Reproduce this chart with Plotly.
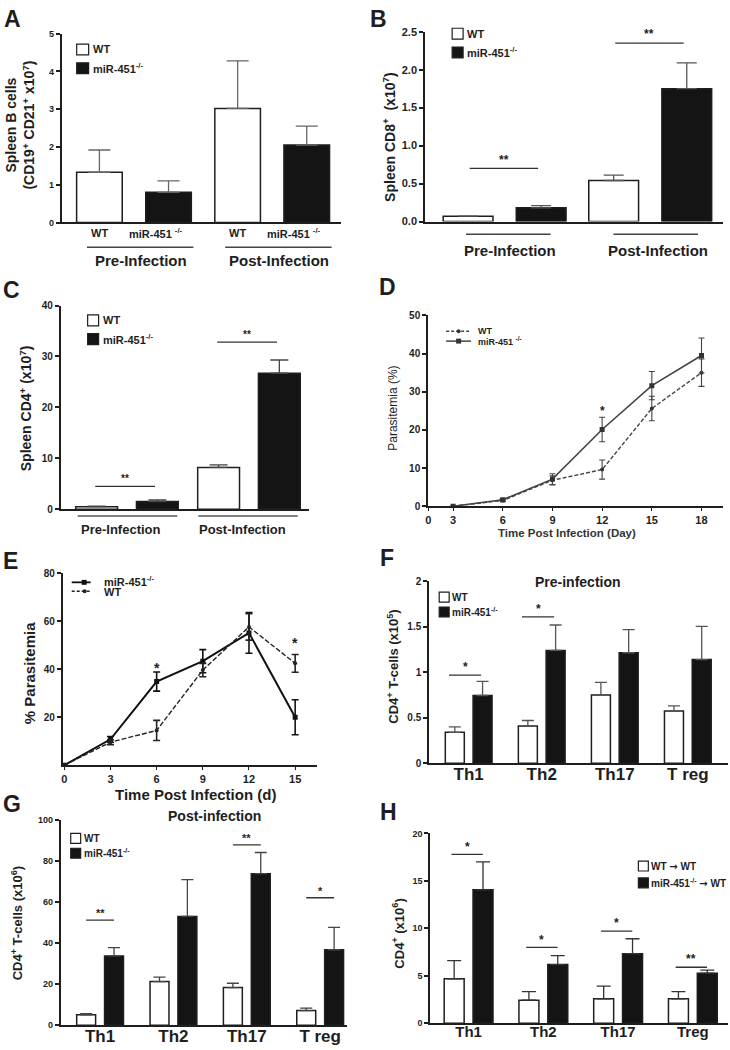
import plotly.graph_objects as go

FONT = "Liberation Sans, Arial, Helvetica, sans-serif"
W, H = 730, 1050
INK = "#1e1e1e"
BLACKBAR = "#141414"

# ---------------- data ----------------
groups = ["Pre-Infection", "Post-Infection"]
# Panel A: spleen B cells (x10^7)
a_wt = [1.33, 3.02]
a_wt_sem = [0.59, 1.26]
a_mir = [0.80, 2.05]
a_mir_sem = [0.30, 0.50]
# Panel B: spleen CD8+ (x10^7)
b_wt = [0.07, 0.54]
b_wt_sem = [0.0, 0.07]
b_mir = [0.18, 1.75]
b_mir_sem = [0.03, 0.34]
b_sig_y = [0.70, 2.35]
b_sig_txt = ["**", "**"]
# Panel C: spleen CD4+ (x10^7)
c_wt = [0.5, 8.2]
c_wt_sem = [0.1, 0.5]
c_mir = [1.5, 26.7]
c_mir_sem = [0.3, 2.6]
c_sig_y = [4.5, 32.8]
c_sig_txt = ["**", "**"]
# Panel D: parasitemia (%)
d_days = [3, 6, 9, 12, 15, 18]
d_wt = [0.0, 1.5, 6.8, 9.6, 25.6, 35.0]
d_wt_sem = [0.0, 0.3, 1.2, 2.5, 3.2, 3.6]
d_mir = [0.0, 1.7, 7.1, 20.1, 31.6, 39.5]
d_mir_sem = [0.0, 0.3, 1.4, 3.2, 3.7, 4.6]
d_star_day = [12]
d_star_y = [25.7]
d_xticks = [0, 3, 6, 9, 12, 15, 18]
# Panel E: % parasitemia
e_days = [0, 3, 6, 9, 12, 15]
e_mir = [0.0, 10.8, 34.9, 43.4, 55.2, 20.0]
e_mir_sem = [0.0, 1.2, 4.0, 4.8, 8.5, 7.3]
e_wt = [0.0, 9.6, 14.5, 39.7, 57.7, 42.5]
e_wt_sem = [0.0, 1.0, 4.2, 2.8, 5.5, 3.7]
e_star_day = [6, 15]
e_star_y = [41.8, 52.1]
# Panel F: pre-infection CD4+ subsets (x10^5)
f_cats = ["Th1", "Th2", "Th17", "T reg"]
f_wt = [0.34, 0.41, 0.75, 0.575]
f_wt_sem = [0.06, 0.06, 0.14, 0.055]
f_mir = [0.745, 1.24, 1.215, 1.14]
f_mir_sem = [0.155, 0.28, 0.255, 0.365]
f_sig_idx = [0, 1]
f_sig_y = [0.97, 1.61]
f_sig_txt = ["*", "*"]
# Panel G: post-infection CD4+ subsets (x10^6)
g_cats = ["Th1", "Th2", "Th17", "T reg"]
g_wt = [5.1, 21.2, 18.3, 7.1]
g_wt_sem = [0.5, 2.2, 2.1, 1.2]
g_mir = [33.7, 52.9, 73.7, 36.7]
g_mir_sem = [4.0, 17.9, 10.3, 10.9]
g_sig_idx = [0, 2, 3]
g_sig_y = [51.1, 87.7, 62.0]
g_sig_txt = ["**", "**", "*"]
# Panel H: chimera CD4+ subsets (x10^6)
h_cats = ["Th1", "Th2", "Th17", "Treg"]
h_wt = [4.69, 2.43, 2.57, 2.57]
h_wt_sem = [1.91, 0.90, 1.33, 0.76]
h_mir = [14.06, 6.18, 7.33, 5.28]
h_mir_sem = [2.94, 0.94, 1.57, 0.32]
h_sig_idx = [0, 1, 2, 3]
h_sig_y = [17.8, 8.0, 9.7, 5.9]
h_sig_txt = ["*", "*", "*", "**"]

MIR = "miR-451<sup>-/-</sup>"
ARROW = "<span style='font-family:DejaVu Sans'>→</span>"

# ---------------- helpers ----------------
def px(x):
    return x / W


def py(y):
    return 1 - y / H


fig = go.Figure()
annotations = []
shapes = []
layout = dict(
    width=W, height=H, margin=dict(l=0, r=0, t=0, b=0),
    paper_bgcolor="white", plot_bgcolor="white",
    showlegend=False, barmode="overlay",
    font=dict(family=FONT, color=INK),
)


def names(n):
    s = "" if n == 1 else str(n)
    return "xaxis" + s, "yaxis" + s, "x" + s, "y" + s


def text(t, x, y, size, bold=True, xanchor="center", yanchor="middle",
         angle=0, xref="paper", yref="paper", color=INK, xshift=0, yshift=0):
    if xref == "paper":
        x = px(x)
    if yref == "paper":
        y = py(y)
    annotations.append(dict(
        text=t, x=x, y=y, xref=xref, yref=yref, showarrow=False,
        xanchor=xanchor, yanchor=yanchor, textangle=angle,
        xshift=xshift, yshift=yshift,
        font=dict(family=FONT, size=size, color=color,
                  weight="bold" if bold else "normal")))


def setup_axes(n, box, xr, yr, ytickvals, ytickfont, ytickformat=None,
               xcat=None, xtickfont=None, xlinear=None, xstand=0):
    xa, ya, xs, ys = names(n)
    l, t, r, b = box
    yaxis = dict(domain=[py(b), py(t)], anchor=xs, range=yr,
                 showline=True, linecolor=INK, linewidth=2,
                 ticks="outside", ticklen=4, tickwidth=1.5, tickcolor=INK,
                 tickvals=ytickvals, showgrid=False, zeroline=False,
                 tickfont=dict(family=FONT, size=ytickfont, color=INK, weight="bold"))
    if ytickformat:
        yaxis["tickformat"] = ytickformat
    xaxis = dict(domain=[px(l), px(r)], anchor=ys, range=xr,
                 showline=True, linecolor=INK, linewidth=2,
                 showgrid=False, zeroline=False)
    if xlinear is not None:
        xaxis.update(type="linear", tickvals=xlinear[0], ticktext=xlinear[1],
                     ticks="outside", ticklen=3, tickwidth=1.2, tickcolor=INK,
                     tickfont=dict(family=FONT, size=xtickfont, color=INK, weight="bold"))
    else:
        xaxis.update(type="category", ticks="")
        if xcat is None:
            xaxis["showticklabels"] = False
        else:
            xaxis.update(categoryorder="array", categoryarray=xcat,
                         ticklabelstandoff=xstand,
                         tickfont=dict(family=FONT, size=xtickfont, color=INK, weight="bold"))
    layout[xa] = xaxis
    layout[ya] = yaxis
    return xs, ys


def bars(xs, ys, cats, wt, wt_sem, mir, mir_sem, d, w, cap, ecolor):
    zeros = [0] * len(cats)
    for vals, sem, fill, off in ((wt, wt_sem, "white", -d), (mir, mir_sem, BLACKBAR, d)):
        fig.add_trace(go.Bar(
            x=cats, y=vals, xaxis=xs, yaxis=ys, width=w, offset=off - w / 2,
            marker=dict(color=fill, line=dict(color=INK, width=1.5)),
            error_y=dict(type="data", symmetric=False, array=sem, arrayminus=zeros,
                         color=ecolor, thickness=1.3, width=cap),
            hoverinfo="skip"))


def sig(xs, ys, idx, yv, txt, lo, hi, size, bold=True, gap=0.0, color="#333"):
    for i, yy, tt in zip(idx, yv, txt):
        shapes.append(dict(type="line", xref=xs, yref=ys, x0=i + lo, x1=i + hi,
                           y0=yy, y1=yy, line=dict(color=color, width=1.3)))
        text(tt, i + (lo + hi) / 2, yy, size, bold=bold, xref=xs, yref=ys,
             yanchor="bottom", yshift=gap - size * 0.35)


def box_legend(x, y1, y2, t1, t2, size, bw=11, bh=11, tx=2):
    shapes.append(dict(type="rect", xref="paper", yref="paper",
                       x0=px(x), x1=px(x + bw), y0=py(y1 + bh / 2), y1=py(y1 - bh / 2),
                       line=dict(color=INK, width=1.2), fillcolor="white"))
    shapes.append(dict(type="rect", xref="paper", yref="paper",
                       x0=px(x), x1=px(x + bw), y0=py(y2 + bh / 2), y1=py(y2 - bh / 2),
                       line=dict(color=INK, width=1.2), fillcolor=BLACKBAR))
    text(t1, x + bw + tx, y1, size, xanchor="left")
    text(t2, x + bw + tx, y2, size, xanchor="left")


def underline(xs, i, lo, hi, ypix, color="#444"):
    shapes.append(dict(type="line", xref=xs, yref="paper", x0=i + lo, x1=i + hi,
                       y0=py(ypix), y1=py(ypix), line=dict(color=color, width=1.5)))


# ---------------- panel letters ----------------
for letter, lx, ly in (("A", 10, 13), ("B", 377, 13), ("C", 9, 287), ("D", 386, 284),
                       ("E", 8, 561), ("F", 386, 558), ("G", 9, 807), ("H", 387, 815)):
    text(letter, lx, ly, 23)

# ---------------- Panel A ----------------
xs, ys = setup_axes(1, (59, 28, 339, 219), [-0.5225, 1.495], [0, 5],
                    [0, 1, 2, 3, 4, 5], 9)
bars(xs, ys, groups, a_wt, a_wt_sem, a_mir, a_mir_sem, 0.25, 0.33, 11, "#666")
for i in range(2):
    text("WT", i - 0.25, 230, 11, xref=xs)
    text("miR-451 <sup>-/-</sup>", i + 0.25, 230, 11, xref=xs, xshift=-13)
    underline(xs, i, -0.34, 0.43, 244)
    text(groups[i], i + 0.05, 257, 15, xref=xs)
box_legend(74, 44, 63, "WT", MIR, 11, bw=12, bh=11)
text("Spleen B cells<br>(CD19<sup>+</sup> CD21<sup>+</sup> x10<sup>7</sup>)", 17, 120, 14, angle=-90)

# ---------------- Panel B ----------------
xs, ys = setup_axes(2, (424, 26, 723, 218), [-0.545, 1.5], [0, 2.5],
                    [0, 0.5, 1.0, 1.5, 2.0, 2.5], 11, ytickformat=".1f")
bars(xs, ys, groups, b_wt, b_wt_sem, b_mir, b_mir_sem, 0.251, 0.342, 10, "#555")
sig(xs, ys, [0, 1], b_sig_y, b_sig_txt, -0.24, 0.23, 12, gap=4)
underline(xs, 0, -0.265, 0.316, 231)
underline(xs, 1, -0.253, 0.328, 231)
text("Pre-Infection", 0.04, 247, 15, xref=xs)
text("Post-Infection", 1.05, 247, 15, xref=xs)
box_legend(451, 28, 47, "WT", MIR, 11)
text("Spleen CD8<sup>+</sup>  (x10<sup>7</sup>)", 388, 133, 14, angle=-90)

# ---------------- Panel C ----------------
xs, ys = setup_axes(3, (58, 303, 307, 509), [-0.543, 1.49], [0, 40],
                    [0, 10, 20, 30, 40], 10)
bars(xs, ys, groups, c_wt, c_wt_sem, c_mir, c_mir_sem, 0.249, 0.343, 9, "#444")
sig(xs, ys, [0, 1], c_sig_y, c_sig_txt, -0.26, 0.23, 10, gap=4)
underline(xs, 0, -0.404, 0.412, 516, color="#555")
underline(xs, 1, -0.416, 0.40, 516, color="#555")
text("Pre-Infection", -0.05, 530, 13, xref=xs)
text("Post-Infection", 0.95, 530, 13, xref=xs)
box_legend(85, 318, 337, "WT", MIR, 11)
text("Spleen CD4<sup>+</sup> (x10<sup>7</sup>)", 23, 407, 14, angle=-90)

# ---------------- Panel D ----------------
d_tickpos = [1.5] + d_xticks[1:]
xs, ys = setup_axes(4, (427, 313, 723, 506), [1.5, 19.3], [0, 50],
                    [0, 10, 20, 30, 40, 50], 10,
                    xlinear=(d_tickpos, [str(v) for v in d_xticks]), xtickfont=11)
fig.add_trace(go.Scatter(
    x=d_days, y=d_wt, xaxis=xs, yaxis=ys, mode="lines+markers",
    line=dict(color="#444", width=1.4, dash="4px,2px"),
    marker=dict(symbol="circle", size=4, color="#333"),
    error_y=dict(type="data", array=d_wt_sem, color="#444", thickness=1.1, width=3),
    hoverinfo="skip"))
fig.add_trace(go.Scatter(
    x=d_days, y=d_mir, xaxis=xs, yaxis=ys, mode="lines+markers",
    line=dict(color="#444", width=1.6),
    marker=dict(symbol="square", size=5, color="#333"),
    error_y=dict(type="data", array=d_mir_sem, color="#444", thickness=1.1, width=3),
    hoverinfo="skip"))
for dd, yy in zip(d_star_day, d_star_y):
    text("*", dd, yy, 12, xref=xs, yref=ys, yshift=-3)
shapes.append(dict(type="line", xref="paper", yref="paper", x0=px(445), x1=px(470),
                   y0=py(329), y1=py(329), line=dict(color="#444", width=1.3, dash="3px,2px")))
shapes.append(dict(type="circle", xref="paper", yref="paper", x0=px(455.5), x1=px(459.5),
                   y0=py(331), y1=py(327), fillcolor="#333", line=dict(width=0)))
shapes.append(dict(type="line", xref="paper", yref="paper", x0=px(445), x1=px(470),
                   y0=py(339), y1=py(339), line=dict(color="#444", width=1.5)))
shapes.append(dict(type="rect", xref="paper", yref="paper", x0=px(455), x1=px(460),
                   y0=py(341.5), y1=py(336.5), fillcolor="#333", line=dict(width=0)))
text("WT", 475, 329, 9, xanchor="left")
text("miR-451 <sup>-/-</sup>", 475, 339, 9, xanchor="left")
text("Parasitemia (%)", 392, 407, 12, bold=False, angle=-90)
text("Time Post Infection (Day)", 566, 533, 11.5, color="#333")

# ---------------- Panel E ----------------
xs, ys = setup_axes(5, (60, 574, 315, 768), [-0.1, 16.4], [0, 80],
                    [20, 40, 60, 80], 10,
                    xlinear=(e_days, [str(v) for v in e_days]), xtickfont=11)
fig.add_trace(go.Scatter(
    x=e_days, y=e_mir, xaxis=xs, yaxis=ys, mode="lines+markers",
    line=dict(color="#111", width=2),
    marker=dict(symbol="square", size=5, color="#111"),
    error_y=dict(type="data", array=e_mir_sem, color="#111", thickness=1.6, width=3.5),
    hoverinfo="skip"))
fig.add_trace(go.Scatter(
    x=e_days, y=e_wt, xaxis=xs, yaxis=ys, mode="lines+markers",
    line=dict(color="#222", width=1.4, dash="5px,2px"),
    marker=dict(symbol="circle", size=4, color="#222"),
    error_y=dict(type="data", array=e_wt_sem, color="#222", thickness=1.6, width=3.5),
    hoverinfo="skip"))
for dd, yy in zip(e_star_day, e_star_y):
    text("*", dd, yy, 14, xref=xs, yref=ys, yshift=-3)
shapes.append(dict(type="line", xref="paper", yref="paper", x0=px(69), x1=px(88),
                   y0=py(583), y1=py(583), line=dict(color="#111", width=1.8)))
shapes.append(dict(type="rect", xref="paper", yref="paper", x0=px(79), x1=px(84),
                   y0=py(585.5), y1=py(580.5), fillcolor="#111", line=dict(width=0)))
shapes.append(dict(type="line", xref="paper", yref="paper", x0=px(69), x1=px(88),
                   y0=py(592), y1=py(592), line=dict(color="#222", width=1.4, dash="3px,2px")))
shapes.append(dict(type="circle", xref="paper", yref="paper", x0=px(80), x1=px(84),
                   y0=py(594), y1=py(590), fillcolor="#222", line=dict(width=0)))
text(MIR, 99, 582, 11, xanchor="left")
text("WT", 99, 593, 11, xanchor="left")
text("% Parasitemia", 26, 675, 15, angle=-90)
text("Time Post Infection (d)", 193, 798, 15)

# ---------------- Panel F ----------------
xs, ys = setup_axes(6, (428, 582, 728, 766), [-0.54, 3.55], [0, 2],
                    [0, 0.5, 1, 1.5, 2], 10, xcat=f_cats, xtickfont=17, xstand=-6)
bars(xs, ys, f_cats, f_wt, f_wt_sem, f_mir, f_mir_sem, 0.19, 0.26, 6, "#555")
sig(xs, ys, f_sig_idx, f_sig_y, f_sig_txt, -0.27, 0.17, 12, gap=3)
box_legend(438, 598, 613, "WT", MIR, 10, bw=10, bh=10, tx=1)
text("Pre-infection", 577, 583, 14)
text("CD4<sup>+</sup> T-cells (x10<sup>5</sup>)", 392, 668, 13, angle=-90)

# ---------------- Panel G ----------------
xs, ys = setup_axes(7, (58, 823, 345, 1031), [-0.536, 3.36], [0, 100],
                    [0, 20, 40, 60, 80, 100], 9, xcat=g_cats, xtickfont=17, xstand=-6)
bars(xs, ys, g_cats, g_wt, g_wt_sem, g_mir, g_mir_sem, 0.19, 0.258, 6, "#444")
sig(xs, ys, g_sig_idx, g_sig_y, g_sig_txt, -0.19, 0.19, 11, gap=3)
box_legend(68, 842, 857, "WT", MIR, 10, bw=10, bh=10, tx=1)
text("Post-infection", 212, 819, 14)
text("CD4<sup>+</sup> T-cells (x10<sup>6</sup>)", 14, 928, 13, angle=-90)

# ---------------- Panel H ----------------
xs, ys = setup_axes(8, (429, 837, 728, 1029), [-0.513, 3.47], [0, 20],
                    [0, 5, 10, 15, 20], 9, xcat=h_cats, xtickfont=15, xstand=-6)
bars(xs, ys, h_cats, h_wt, h_wt_sem, h_mir, h_mir_sem, 0.193, 0.267, 7, "#333")
sig(xs, ys, h_sig_idx, h_sig_y, h_sig_txt, -0.23, 0.19, 12, gap=3)
box_legend(638, 870, 887, "WT " + ARROW + " WT", MIR + " " + ARROW + " WT", 10,
           bw=10, bh=10, tx=1)
text("CD4<sup>+</sup> (x10<sup>6</sup>)", 397, 938, 13, angle=-90)

layout["annotations"] = annotations
layout["shapes"] = shapes
fig.update_layout(**layout)
fig.write_html("out.html", config={"displayModeBar": False},
               post_script="document.body.style.margin='0px';")
